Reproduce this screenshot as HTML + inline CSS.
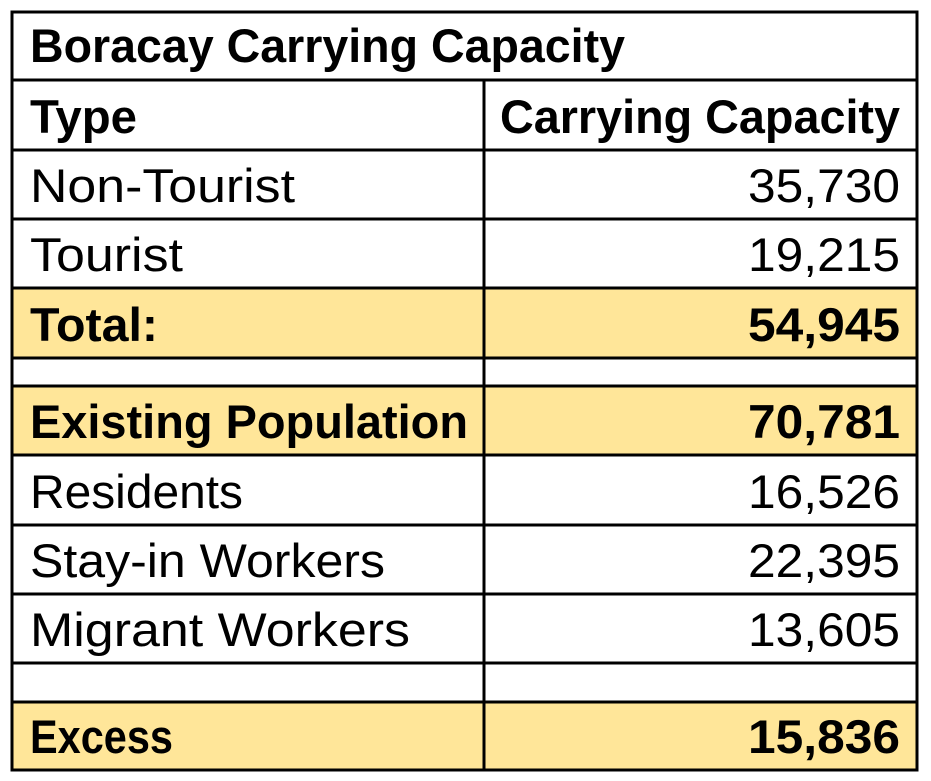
<!DOCTYPE html>
<html><head><meta charset="utf-8"><style>
html,body{margin:0;padding:0;background:#fff;}
svg{display:block}
text{font-family:"Liberation Sans",sans-serif;font-size:47px;fill:#000}
.b{font-weight:bold}
</style></head><body>
<svg width="931" height="781" viewBox="0 0 931 781">
<rect x="0" y="0" width="931" height="781" fill="#fff"/>
<rect x="12" y="288" width="905" height="70" fill="#FFE699"/>
<rect x="12" y="386" width="905" height="69" fill="#FFE699"/>
<rect x="12" y="702" width="905" height="68" fill="#FFE699"/>
<g stroke="#000" stroke-width="3" fill="none">
<rect x="12" y="12" width="905" height="758"/>
<line x1="484" y1="80" x2="484" y2="770"/>
<line x1="12" y1="80" x2="917" y2="80"/>
<line x1="12" y1="150" x2="917" y2="150"/>
<line x1="12" y1="219" x2="917" y2="219"/>
<line x1="12" y1="288" x2="917" y2="288"/>
<line x1="12" y1="358" x2="917" y2="358"/>
<line x1="12" y1="386" x2="917" y2="386"/>
<line x1="12" y1="455" x2="917" y2="455"/>
<line x1="12" y1="525" x2="917" y2="525"/>
<line x1="12" y1="594" x2="917" y2="594"/>
<line x1="12" y1="663" x2="917" y2="663"/>
<line x1="12" y1="702" x2="917" y2="702"/>
</g>
<text class="b" x="30" y="62" textLength="595" lengthAdjust="spacingAndGlyphs">Boracay Carrying Capacity</text>
<text class="b" x="30" y="133" textLength="107" lengthAdjust="spacingAndGlyphs">Type</text>
<text class="b" x="500" y="133" textLength="400" lengthAdjust="spacingAndGlyphs">Carrying Capacity</text>
<text x="30" y="202" textLength="265" lengthAdjust="spacingAndGlyphs">Non-Tourist</text>
<text x="748" y="202" textLength="152" lengthAdjust="spacingAndGlyphs">35,730</text>
<text x="30" y="271" textLength="153" lengthAdjust="spacingAndGlyphs">Tourist</text>
<text x="748" y="271" textLength="152" lengthAdjust="spacingAndGlyphs">19,215</text>
<text class="b" x="30" y="341" textLength="128" lengthAdjust="spacingAndGlyphs">Total:</text>
<text class="b" x="748" y="341" textLength="152" lengthAdjust="spacingAndGlyphs">54,945</text>
<text class="b" x="30" y="438" textLength="438" lengthAdjust="spacingAndGlyphs">Existing Population</text>
<text class="b" x="748" y="438" textLength="152" lengthAdjust="spacingAndGlyphs">70,781</text>
<text x="30" y="508" textLength="213" lengthAdjust="spacingAndGlyphs">Residents</text>
<text x="748" y="508" textLength="152" lengthAdjust="spacingAndGlyphs">16,526</text>
<text x="30" y="577" textLength="355" lengthAdjust="spacingAndGlyphs">Stay-in Workers</text>
<text x="748" y="577" textLength="152" lengthAdjust="spacingAndGlyphs">22,395</text>
<text x="30" y="646" textLength="380" lengthAdjust="spacingAndGlyphs">Migrant Workers</text>
<text x="748" y="646" textLength="152" lengthAdjust="spacingAndGlyphs">13,605</text>
<text class="b" x="30" y="753" textLength="143" lengthAdjust="spacingAndGlyphs">Excess</text>
<text class="b" x="748" y="753" textLength="152" lengthAdjust="spacingAndGlyphs">15,836</text>
</svg>
</body></html>
